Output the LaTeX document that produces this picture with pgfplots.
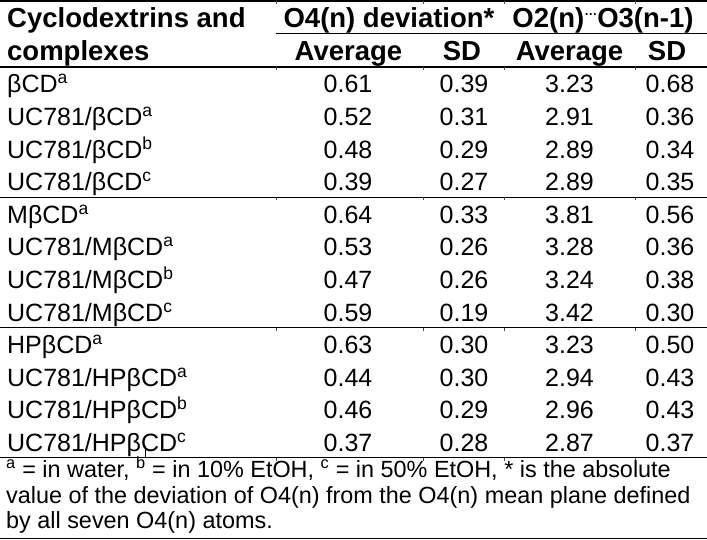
\documentclass[border=0pt]{standalone}
\usepackage{fontspec}
\setmainfont{Liberation Sans}
\usepackage{pgfplots}
\usepackage{pgfplotstable}
\pgfplotsset{compat=1.18}

\newcommand{\dfont}{\fontsize{25bp}{30bp}\selectfont}
\newcommand{\hfont}{\fontsize{27.5bp}{30bp}\selectfont\bfseries}
\newcommand{\ffont}{\fontsize{23.4bp}{26bp}\selectfont}

% baseline y (px from top), O4 average, O4 SD, O2..O3 average, O2..O3 SD
\pgfplotstableread{
y     oa   osd  na   nsd
92.8  0.61 0.39 3.23 0.68
125.4 0.52 0.31 2.91 0.36
158.0 0.48 0.29 2.89 0.34
190.6 0.39 0.27 2.89 0.35
223.2 0.64 0.33 3.81 0.56
255.8 0.53 0.26 3.28 0.36
288.4 0.47 0.26 3.24 0.38
321.0 0.59 0.19 3.42 0.30
353.6 0.63 0.30 3.23 0.50
386.2 0.44 0.30 2.94 0.43
418.8 0.46 0.29 2.96 0.43
451.4 0.37 0.28 2.87 0.37
}\datatable

\pgfplotsset{numcol/.style={draw=none, mark=none, point meta=explicit,
  nodes near coords={\pgfmathprintnumber[fixed,fixed zerofill,precision=2,assume math mode=true]{\pgfplotspointmeta}},
  every node near coord/.style={anchor=base, font=\dfont, inner sep=0pt, text=black}}}
\tikzset{rule/.style={line width=1.2bp}, tk/.style={line width=0.6bp, black!70},
  lab/.style={anchor=base west, inner sep=0pt, font=\dfont},
  hd/.style={anchor=base, inner sep=0pt, font=\hfont}}

\begin{document}
\begin{tikzpicture}
\begin{axis}[scale only axis, width=707bp, height=540bp,
  xmin=0, xmax=707, ymin=0, ymax=540, y dir=reverse,
  hide axis, clip=false, anchor=south west, at={(0,0)}]
\path (axis cs:0,0) rectangle (axis cs:707,540);

\addplot[numcol] table[x expr=348,   y=y, meta=oa]  {\datatable};
\addplot[numcol] table[x expr=464,   y=y, meta=osd] {\datatable};
\addplot[numcol] table[x expr=569.5, y=y, meta=na]  {\datatable};
\addplot[numcol] table[x expr=670,   y=y, meta=nsd] {\datatable};

% rules
\draw[line width=1.3bp] (axis cs:0,1) -- (axis cs:707,1);
\draw[rule] (axis cs:276,33.8) -- (axis cs:707,33.8);
\draw[rule] (axis cs:0,67) -- (axis cs:707,67);
\draw[rule] (axis cs:0,197.4) -- (axis cs:707,197.4);
\draw[rule] (axis cs:0,327.7) -- (axis cs:707,327.7);
\draw[rule] (axis cs:0,457.8) -- (axis cs:707,457.8);
\draw[line width=1.3bp] (axis cs:0,538.3) -- (axis cs:707,538.3);
% small column ticks
\draw[tk] (axis cs:276,1) -- (axis cs:276,4) (axis cs:423,1) -- (axis cs:423,4) (axis cs:504,1) -- (axis cs:504,4) (axis cs:635,1) -- (axis cs:635,4);
\draw[tk] (axis cs:276,67) -- (axis cs:276,70) (axis cs:423,67) -- (axis cs:423,70) (axis cs:504,67) -- (axis cs:504,70) (axis cs:635,67) -- (axis cs:635,70);
\draw[tk] (axis cs:276,197.4) -- (axis cs:276,200.4) (axis cs:423,197.4) -- (axis cs:423,200.4) (axis cs:504,197.4) -- (axis cs:504,200.4) (axis cs:635,197.4) -- (axis cs:635,200.4);
\draw[tk] (axis cs:276,327.7) -- (axis cs:276,330.7) (axis cs:423,327.7) -- (axis cs:423,330.7) (axis cs:504,327.7) -- (axis cs:504,330.7) (axis cs:635,327.7) -- (axis cs:635,330.7);
\draw[tk] (axis cs:276,457.8) -- (axis cs:276,460.8) (axis cs:423,457.8) -- (axis cs:423,460.8) (axis cs:504,457.8) -- (axis cs:504,460.8) (axis cs:635,457.8) -- (axis cs:635,460.8);
\draw[line width=0.8bp] (axis cs:145.5,446) -- (axis cs:145.5,457.8);

% headers
\node[hd, anchor=base west] at (axis cs:7,27.5) {Cyclodextrins and};
\node[hd, anchor=base west] at (axis cs:7,60) {complexes};
\node[hd] at (axis cs:389,27.5) {O4(n) deviation*};
\node[hd] at (axis cs:603,27.5) {O2(n)\raisebox{0.42em}{\fontsize{13bp}{13bp}\selectfont\bfseries …}O3(n-1)};
\node[hd] at (axis cs:348.5,60) {Average};
\node[hd] at (axis cs:462,60) {SD};
\node[hd] at (axis cs:569.5,60) {Average};
\node[hd] at (axis cs:667,60) {SD};

% row labels
\node[lab] at (axis cs:7,92.8) {βCD\textsuperscript{a}};
\node[lab] at (axis cs:7,125.4) {UC781/βCD\textsuperscript{a}};
\node[lab] at (axis cs:7,158.0) {UC781/βCD\textsuperscript{b}};
\node[lab] at (axis cs:7,190.6) {UC781/βCD\textsuperscript{c}};
\node[lab] at (axis cs:7,223.2) {MβCD\textsuperscript{a}};
\node[lab] at (axis cs:7,255.8) {UC781/MβCD\textsuperscript{a}};
\node[lab] at (axis cs:7,288.4) {UC781/MβCD\textsuperscript{b}};
\node[lab] at (axis cs:7,321.0) {UC781/MβCD\textsuperscript{c}};
\node[lab] at (axis cs:7,353.6) {HPβCD\textsuperscript{a}};
\node[lab] at (axis cs:7,386.2) {UC781/HPβCD\textsuperscript{a}};
\node[lab] at (axis cs:7,418.8) {UC781/HPβCD\textsuperscript{b}};
\node[lab] at (axis cs:7,451.4) {UC781/HPβCD\textsuperscript{c}};

% footnote
\node[anchor=base west, inner sep=0pt, font=\ffont] at (axis cs:6,477.5) {\textsuperscript{a} = in water, \textsuperscript{b} = in 10\% EtOH, \textsuperscript{c} = in 50\% EtOH, * is the absolute};
\node[anchor=base west, inner sep=0pt, font=\ffont] at (axis cs:6,503) {value of the deviation of O4(n) from the O4(n) mean plane defined};
\node[anchor=base west, inner sep=0pt, font=\ffont] at (axis cs:6,528.5) {by all seven O4(n) atoms.};
\end{axis}
\pgfresetboundingbox
\useasboundingbox (0,0) rectangle (707bp,540bp);
\end{tikzpicture}
\end{document}
